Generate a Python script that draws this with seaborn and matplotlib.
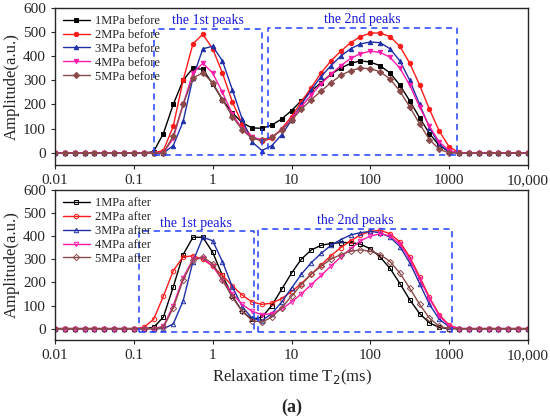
import numpy as np
import pandas as pd
import matplotlib
matplotlib.use("Agg")
import matplotlib.pyplot as plt
import seaborn as sns
from matplotlib.ticker import FixedLocator, NullLocator

sns.set_style("ticks")
plt.rcParams['font.family'] = ['Liberation Serif', 'DejaVu Serif']

t2 = [0.01, 0.0133, 0.0178, 0.0237, 0.0316, 0.0422, 0.0562, 0.075, 0.1, 0.133,
      0.178, 0.237, 0.316, 0.422, 0.562, 0.75, 1, 1.33, 1.78, 2.37, 3.16, 4.22, 5.62, 7.5,
      10, 13.3, 17.8, 23.7, 31.6, 42.2, 56.2, 75, 100, 133, 178, 237, 316, 422, 562, 750,
      1000, 1330, 1780, 2370, 3160, 4220, 5620, 7500, 10000]

Z10 = [0] * 10
Z7 = [0] * 7
before_1 = Z10 + [5,80,200,300,350,345,285,220,165,125,103,102,115,140,175,215,255,290,325,350,370,380,375,360,330,280,215,145,80,30,5,0] + Z7
before_2 = Z10 + [0,10,110,300,450,490,430,330,210,120,65,48,60,100,150,210,270,330,380,420,455,480,495,495,480,440,370,280,180,90,25,2] + Z7
before_3 = Z10 + [0,0,30,130,310,430,440,380,260,140,45,10,30,75,135,200,260,315,360,400,430,450,458,455,430,380,300,200,105,35,5,0] + Z7
before_4 = Z10 + [0,0,60,200,330,370,330,250,160,100,65,55,65,95,140,190,240,285,325,360,390,410,420,415,395,350,280,190,110,45,10,0] + Z7
before_5 = Z10 + [0,0,70,200,310,330,290,220,150,95,60,52,65,95,135,180,220,255,290,320,340,350,348,335,305,255,190,120,55,15,0,0] + Z7
after_1 = Z10 + [5,50,180,320,395,395,330,230,140,75,40,50,100,170,240,300,340,360,368,372,372,365,345,310,260,195,125,65,25,5,0,0] + Z7
after_2 = [0]*9 + [5] + [40,140,250,310,315,300,270,230,185,145,115,105,110,130,160,195,235,275,315,350,380,405,420,425,410,375,310,225,135,60,15,0] + Z7
after_3 = Z10 + [0,0,20,120,290,395,380,290,180,95,45,35,65,115,175,235,285,325,360,385,405,415,420,415,395,355,285,195,105,40,8,0] + Z7
after_4 = Z10 + [0,10,100,220,300,305,270,210,150,105,75,60,65,85,115,150,190,230,270,310,345,380,400,410,400,365,300,215,130,55,12,0] + Z7
after_5 = Z10 + [0,5,90,210,295,310,280,210,135,75,35,28,50,90,140,190,235,270,300,320,335,340,335,320,290,240,175,105,45,10,0,0] + Z7

labels_before = ["1MPa before", "2MPa before", "3MPa before", "4MPa before", "5MPa before"]
labels_after = ["1MPa after", "2MPa after", "3MPa after", "4MPa after", "5MPa after"]
colors = ["black", "#ff1a1a", "#1f2fa8", "#ff1aa8", "#8b4a4a"]
markers_top = ["s", "o", "^", "v", "D"]
markers_bot = ["s", "o", "^", "v", "D"]

fig = plt.figure(figsize=(5.5, 4.2), dpi=100)
ax1 = fig.add_axes([0.1, 0.607, 0.86, 0.375])
ax2 = fig.add_axes([0.1, 0.19, 0.86, 0.358])

def draw(ax, series, labels, markers, filled):
    for y, lab, c, m in zip(series, labels, colors, markers):
        df = pd.DataFrame({"T2": t2, "A": y})
        sns.lineplot(data=df, x="T2", y="A", ax=ax, color=c, marker=m, label=lab,
                     markersize=3.2, linewidth=1.0,
                     markerfacecolor=(c if filled else "none"), markeredgecolor=c,
                     markeredgewidth=0.7)
    ax.set_xscale("log")
    ax.set_xlim(0.01, 10000)
    ax.set_ylim(-50, 600)
    ax.set_yticks([0, 100, 200, 300, 400, 500, 600])
    ax.xaxis.set_major_locator(FixedLocator([0.01, 0.1, 1, 10, 100, 1000, 10000]))
    ax.xaxis.set_minor_locator(NullLocator())
    ax.set_xticklabels(["0.01", "0.1", "1", "10", "100", "1000", "10,000"])
    ax.tick_params(labelsize=11, direction="out", length=3)
    ax.set_ylabel("Amplitude(a.u.)", fontsize=12, labelpad=2)
    ax.set_xlabel("")
    for s in ax.spines.values():
        s.set_visible(True)
        s.set_linewidth(1.0)
    leg = ax.legend(loc="upper left", frameon=False, fontsize=9, handlelength=2.2,
                    borderaxespad=0.2, labelspacing=0.15, handletextpad=0.4)

def box(ax, x0, x1, y0, y1, text):
    ax.plot([x0, x1, x1, x0, x0], [y0, y0, y1, y1, y0], ls="--", color="#2040ff", lw=1.1,
            dashes=(4, 3))
    ax.text(np.sqrt(x0 * x1), y1 + 8, text, color="#1a1adb", fontsize=10, ha="center", va="bottom")

draw(ax1, [before_1, before_2, before_3, before_4, before_5], labels_before, markers_top, True)
box(ax1, 0.18, 4.2, -10, 510, "the 1st peaks")
box(ax1, 5.0, 1250, -10, 515, "the 2nd peaks")

draw(ax2, [after_1, after_2, after_3, after_4, after_5], labels_after, markers_bot, False)
box(ax2, 0.115, 3.3, -15, 420, "the 1st peaks")
box(ax2, 3.8, 1100, -15, 430, "the 2nd peaks")
ax2.set_xlabel("Relaxation time T$_2$(ms)", fontsize=12, labelpad=4)

fig.text(0.53, 0.02, "(a)", fontsize=13, fontweight="bold", ha="center")
fig.savefig("out.png", dpi=100)
